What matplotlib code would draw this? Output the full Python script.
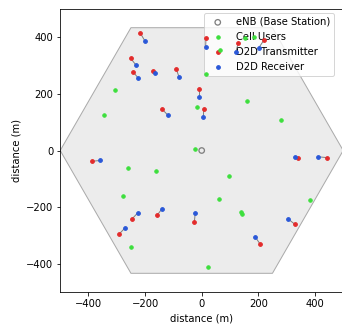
import numpy as np
import matplotlib
matplotlib.use('Agg')
import matplotlib.pyplot as plt
from matplotlib.patches import Polygon

# cell radius (m)
radius = 500

# D2D pairs: transmitter and receiver positions (m)
tx_x = [-217, -251, -243, -171, -90, -8, -141, 7, 15, 129, 219,
        -388, -246, -158, -291, -26, 341, 442, 329, 205]
tx_y = [414, 325, 278, 281, 288, 218, 147, 147, 395, 379, 388,
        -38, -241, -229, -294, -253, -25, -25, -260, -328]
rx_x = [-201, -232, -224, -165, -80, -8, -120, 6, 14, 121, 201,
        -358, -225, -140, -270, -23, 329, 410, 305, 189]
rx_y = [387, 301, 255, 272, 259, 187, 125, 118, 365, 348, 361,
        -35, -219, -205, -272, -222, -23, -22, -241, -304]

# cellular users (m)
cue_x = [-307, -346, -17, -22, 63, 16, 154, 186, 160, 281,
         -260, -161, -279, -250, 97, 60, 140, 141, 382, 22]
cue_y = [214, 124, 152, 7, 356, 271, 395, 399, 176, 106,
         -62, -71, -162, -341, -89, -172, -216, -224, -173, -411]

enb = (0, 0)

fig = plt.figure(figsize=(342 / 72, 325 / 72), dpi=72, facecolor='white')
ax = fig.add_axes([0.176, 0.1006, 0.8275, 0.8726])

# hexagonal cell
ang = np.deg2rad(np.arange(0, 360, 60))
hexagon = Polygon(np.c_[radius * np.cos(ang), radius * np.sin(ang)],
                  closed=True, facecolor='#ececec', edgecolor='#aaaaaa',
                  lw=1, zorder=0)
ax.add_patch(hexagon)

for x0, y0, x1, y1 in zip(tx_x, tx_y, rx_x, rx_y):
    ax.plot([x0, x1], [y0, y1], color='#808080', lw=1, zorder=6)

ax.scatter(*enb, s=30, facecolor='none', edgecolor='#808080', lw=1.3,
           label='eNB (Base Station)', zorder=7)
ax.scatter(cue_x, cue_y, s=12, color='#3ddf3d', label='Cell Users', zorder=7)
ax.scatter(tx_x, tx_y, s=14, color='#e32b2b', label='D2D Transmitter', zorder=7)
ax.scatter(rx_x, rx_y, s=14, color='#2a58d8', label='D2D Receiver', zorder=7)

ax.set_xlim(-500, 500)
ax.set_ylim(-500, 500)
ax.set_xticks([-400, -200, 0, 200, 400])
ax.set_yticks([-400, -200, 0, 200, 400])
ax.set_xlabel('distance (m)')
ax.set_ylabel('distance (m)')

leg = ax.legend(loc='upper right', bbox_to_anchor=(0.9675, 0.985),
                borderaxespad=0, scatterpoints=1)
leg.set_zorder(5)

fig.savefig('out.png', dpi=72)
